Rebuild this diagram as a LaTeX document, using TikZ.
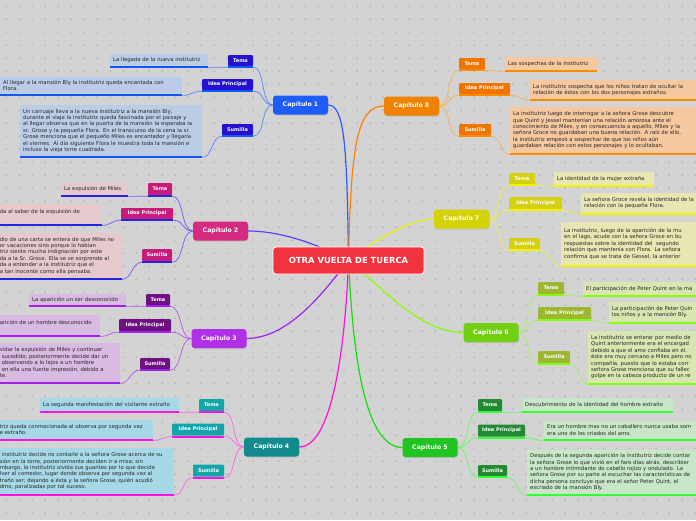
\documentclass[tikz,border=0pt]{standalone}
\usepackage{fontspec}
\setmainfont{DejaVu Sans}
\usetikzlibrary{shadows}
\pgfdeclarelayer{bg}\pgfsetlayers{bg,main}
\definecolor{bgc}{HTML}{D3D3D3}
\definecolor{dotc}{HTML}{BBBBBB}
\definecolor{txtc}{HTML}{262626}
\definecolor{ctrc}{HTML}{F2333F}
% chapter 1
\definecolor{c1n}{HTML}{1E5CF8}\definecolor{c1l}{HTML}{2412D0}\definecolor{c1u}{HTML}{1458F4}\definecolor{c1b}{HTML}{BBCDE6}\definecolor{c1c}{HTML}{5C84FF}\definecolor{c1m}{HTML}{2A5CFF}
% chapter 2
\definecolor{c2n}{HTML}{D62A80}\definecolor{c2l}{HTML}{C81A7A}\definecolor{c2u}{HTML}{2424E4}\definecolor{c2b}{HTML}{E6C9CD}\definecolor{c2c}{HTML}{6A60F2}\definecolor{c2m}{HTML}{5A40F0}
% chapter 3
\definecolor{c3n}{HTML}{B030E8}\definecolor{c3l}{HTML}{6E1082}\definecolor{c3u}{HTML}{A420F0}\definecolor{c3b}{HTML}{D9BAE2}\definecolor{c3c}{HTML}{B458E4}\definecolor{c3m}{HTML}{A020F0}
% chapter 4
\definecolor{c4n}{HTML}{138A8C}\definecolor{c4l}{HTML}{12A6A8}\definecolor{c4u}{HTML}{FF12E2}\definecolor{c4b}{HTML}{A6D8E8}\definecolor{c4c}{HTML}{FF66E6}\definecolor{c4m}{HTML}{FF10D8}
% chapter 5
\definecolor{c5n}{HTML}{22C422}\definecolor{c5l}{HTML}{218A32}\definecolor{c5u}{HTML}{34FF34}\definecolor{c5b}{HTML}{C8E6C8}\definecolor{c5c}{HTML}{66F866}\definecolor{c5m}{HTML}{10E010}
% chapter 6
\definecolor{c6n}{HTML}{72D012}\definecolor{c6l}{HTML}{9CB832}\definecolor{c6u}{HTML}{84FF08}\definecolor{c6b}{HTML}{D8E6B2}\definecolor{c6c}{HTML}{A6F068}\definecolor{c6m}{HTML}{84FF00}
% chapter 7
\definecolor{c7n}{HTML}{D2D204}\definecolor{c7l}{HTML}{D6D012}\definecolor{c7u}{HTML}{F2F200}\definecolor{c7b}{HTML}{E8E6B2}\definecolor{c7c}{HTML}{EEEE48}\definecolor{c7m}{HTML}{EAF200}
% chapter 8
\definecolor{c8n}{HTML}{F08200}\definecolor{c8l}{HTML}{F07400}\definecolor{c8u}{HTML}{FF8A00}\definecolor{c8b}{HTML}{F6C8A0}\definecolor{c8c}{HTML}{F6B256}\definecolor{c8m}{HTML}{FF8200}
\newcommand\txf{\fontsize{5.3}{6.4}\selectfont}
\newcommand\lblf{\fontsize{5}{6}\selectfont\bfseries}
\newcommand\chapf{\fontsize{6.2}{7}\selectfont\bfseries}
\newcommand\ctrf{\fontsize{8.4}{9}\selectfont\bfseries}
\begin{document}
\begin{tikzpicture}[x=1pt,y=-1pt,
  lbl/.style={fill=#1, text=white, font=\lblf, rounded corners=1pt, inner sep=0pt},
  tboxl/.style={fill=#1, text=txtc, font=\txf, align=left, inner xsep=3pt, inner ysep=1pt, anchor=north west},
  tboxr/.style={fill=#1, text=txtc, font=\txf, align=left, inner xsep=3pt, inner ysep=1pt, anchor=north east},
  chap/.style={fill=#1, text=white, font=\chapf, rounded corners=3pt, minimum width=55pt, minimum height=19pt, inner sep=0pt, drop shadow={opacity=0.25, shadow xshift=0.6pt, shadow yshift=-1pt}},
  conn/.style={draw=#1, line width=0.7pt},
  mainl/.style={draw=#1, line width=1.2pt},
  ul/.style={draw=#1, line width=1.8pt}]
\useasboundingbox (0,0) rectangle (696,520);
\clip (0,0) rectangle (696,520);

% ---------- nodes: chapters & center
\node[chap=c1n] (c1) at (300.5,105) {Capítulo 1};
\node[chap=c2n] (c2) at (220.5,231) {Capítulo 2};
\node[chap=c3n] (c3) at (219,338.5) {Capítulo 3};
\node[chap=c4n] (c4) at (271.5,447) {Capítulo 4};
\node[chap=c5n] (c5) at (430,447.5) {Capítulo 5};
\node[chap=c6n] (c6) at (491,332.5) {Capítulo 6};
\node[chap=c7n] (c7) at (461.5,219) {Capítulo 7};
\node[chap=c8n] (c8) at (411.5,106) {Capítulo 8};

% ---------- labels
\node[lbl=c1l, minimum width=25pt, minimum height=11pt] (c1t) at (240.5,60.5) {Tema};
\node[lbl=c1l, minimum width=51pt, minimum height=11pt] (c1i) at (227.5,84.5) {Idea Principal};
\node[lbl=c1l, minimum width=31pt, minimum height=11pt] (c1s) at (237.5,129.5) {Sumilla};
\node[lbl=c2l, minimum width=24pt, minimum height=12pt] (c2t) at (160,189) {Tema};
\node[lbl=c2l, minimum width=52pt, minimum height=11pt] (c2i) at (147,213.5) {Idea Principal};
\node[lbl=c2l, minimum width=30pt, minimum height=12pt] (c2s) at (157,255) {Sumilla};
\node[lbl=c3l, minimum width=24pt, minimum height=11pt] (c3t) at (158,299.5) {Tema};
\node[lbl=c3l, minimum width=52pt, minimum height=12pt] (c3i) at (145,325) {Idea Principal};
\node[lbl=c3l, minimum width=30pt, minimum height=11pt] (c3s) at (155,363.5) {Sumilla};
\node[lbl=c4l, minimum width=25pt, minimum height=12pt] (c4t) at (211.5,405) {Tema};
\node[lbl=c4l, minimum width=52pt, minimum height=12pt] (c4i) at (198,429.5) {Idea Principal};
\node[lbl=c4l, minimum width=31pt, minimum height=12pt] (c4s) at (208.5,470.5) {Sumilla};
\node[lbl=c5l, minimum width=24pt, minimum height=12pt] (c5t) at (490,405) {Tema};
\node[lbl=c5l, minimum width=47pt, minimum height=12pt] (c5i) at (501.5,430.5) {Idea Principal};
\node[lbl=c5l, minimum width=29pt, minimum height=11pt] (c5s) at (492.5,470.5) {Sumilla};
\node[lbl=c6l, minimum width=26pt, minimum height=12pt] (c6t) at (551,288) {Tema};
\node[lbl=c6l, minimum width=53pt, minimum height=12pt] (c6i) at (564.5,313) {Idea Principal};
\node[lbl=c6l, minimum width=32pt, minimum height=12pt] (c6s) at (554,357) {Sumilla};
\node[lbl=c7l, minimum width=26pt, minimum height=11pt] (c7t) at (522,178.5) {Tema};
\node[lbl=c7l, minimum width=53pt, minimum height=12pt] (c7i) at (535.5,203) {Idea Principal};
\node[lbl=c7l, minimum width=31pt, minimum height=11pt] (c7s) at (524.5,243.5) {Sumilla};
\node[lbl=c8l, minimum width=26pt, minimum height=11pt] (c8t) at (472,63.5) {Tema};
\node[lbl=c8l, minimum width=51pt, minimum height=11pt] (c8i) at (484.5,88.5) {Idea Principal};
\node[lbl=c8l, minimum width=32pt, minimum height=11pt] (c8s) at (475,129.5) {Sumilla};

% ---------- text boxes, left side
\node[tboxl=c1b, text width=92pt, minimum height=12pt] (c1tt) at (110,54) {La llegada de la nueva institutriz};
\node[tboxl=c1b, text width=176pt, minimum height=17pt] (c1it) at (0,77) {Al llegar a la mansión Bly la institutriz queda encantada con\\Flora.};
\node[tboxl=c1b, text width=176pt, minimum height=51pt] (c1st) at (20,105) {Un carruaje lleva a la nueva institutriz a la mansión Bly,\\durante el viaje la institutriz queda fascinada por el paisaje y\\al llegar observa que en la puerta de la mansión la esperaba la\\sr. Grose y la pequeña Flora. En el transcurso de la cena la sr.\\Grose menciona que el pequeño Miles es encantador y llegaría\\el viernes. Al día siguiente Flora le muestra toda la mansión e\\incluso la vieja torre cuadrada.};

\node[tboxl=c2b, text width=61pt, minimum height=12pt] (c2tt) at (61,183) {La expulsión de Miles};
\node[tboxr=c2b, text width=99pt, minimum height=20pt] (c2it) at (102,204) {da al saber de la expulsión de\\\mbox{}};
\node[tboxr=c2b, text width=119pt, minimum height=45pt] (c2st) at (122,233) {dio de una carta se entera de que Miles no\\or vacaciones sino porque lo habían\\triz siente mucha indignación por este\\da a la Sr. Grose. Ella se se sorprende al\\da a entender a la institutriz que el\\a tan inocente como ella pensaba.};

\node[tboxl=c3b, text width=91pt, minimum height=11pt] (c3tt) at (29,294) {La aparición un ser desconocido};
\node[tboxr=c3b, text width=97pt, minimum height=20pt] (c3it) at (100,315) {arición de un hombre desconocido\\\mbox{}};
\node[tboxr=c3b, text width=117pt, minimum height=39pt] (c3st) at (120,343) {vidar la expulsión de Miles y continuar\\\hspace*{2pt}sucedido; posteriormente decide dar un\\\hspace*{2pt}observando a lo lejos a un hombre\\\hspace*{2pt}en ella una fuerte impresión, debido a\\te.};

\node[tboxl=c4b, text width=133pt, minimum height=13pt] (c4tt) at (40,398) {La segunda manifestación del visitante extraño};
\node[tboxr=c4b, text width=150pt, minimum height=19pt] (c4it) at (153,420) {triz queda conmocionada al observa por segunda vez\\e extraño.};
\node[tboxr=c4b, text width=171pt, minimum height=46pt] (c4st) at (174,448) {\hspace*{2pt}institutriz decide no contarle a la señora Grose acerca de su\\sión en la torre, posteriormente deciden ir a misa; sin\\mbargo, la institutriz olvida sus guantes por lo que decide\\lver al comedor, lugar donde observa por segunda vez al\\traño ser; dejando a ésta y la señora Grose, quién acudió\\dmo, paralizadas por tal suceso.};

% ---------- text boxes, right side
\node[tboxl=c8b, text width=86pt, minimum height=13pt] (c8tt) at (505,57) {Las sospechas de la institutriz};
\node[tboxl=c8b, text width=160pt, minimum height=19pt] (c8it) at (530,80) {La institutriz sospecha que los niños tratan de ocultar la\\relación de éstos con los dos personajes extraños.};
\node[tboxl=c8b, text width=182pt, minimum height=46pt] (c8st) at (510,107) {La institutriz luego de interrogar a la señora Grose descubre\\que Quint y Jessel mantenían una relación amorosa ante el\\conocimiento de Miles, y en consecuencia a aquello, Miles y la\\señora Groce no guardaban una buena relación. A raíz de ello,\\la institutriz empezó a sospechar de que los niños aún\\guardaban relación con estos personajes y lo ocultaban.};

\node[tboxl=c7b, text width=94pt, minimum height=13pt] (c7tt) at (554,172) {La identidad de la mujer extraña};
\node[tboxl=c7b, text width=140pt, minimum height=20pt] (c7it) at (581,193) {La señora Groce revela la identidad de la\\relación con la pequeña Flora.};
\node[tboxl=c7b, text width=160pt, minimum height=43pt] (c7st) at (561,222) {La institutriz, luego de la aparición de la mu\\en el lago, acude con la señora Groce en bu\\respuestas sobre la identidad del\ \ segundo\\relación que mantenía con Flora. La señora\\confirma que se trata de Gessel, la anterior};

\node[tboxl=c6b, text width=140pt, minimum height=13pt] (c6tt) at (583,282) {El participación de Peter Quint en la ma};
\node[tboxl=c6b, text width=110pt, minimum height=20pt] (c6it) at (609,302) {La participación de Peter Quin\\los niños y a la mansión Bly.};
\node[tboxl=c6b, text width=130pt, minimum height=52pt] (c6st) at (588,331) {La institutriz se enterar por medio de\\Quint anteriormente era el encargad\\debido a que el amo confiaba en él.\\éste era muy cercano a Miles pero no\\compañía, puesto que lo estaba corr\\señora Grose menciona que su fallec\\golpe en la cabeza producto de un re};

\node[tboxl=c5b, text width=145pt, minimum height=13pt] (c5tt) at (522,398) {Descubrimiento de la identidad del hombre extraño};
\node[tboxl=c5b, text width=170pt, minimum height=18pt] (c5it) at (544,421) {Era un hombre mas no un caballero nunca usaba som\\era uno de los criados del amo.};
\node[tboxl=c5b, text width=185pt, minimum height=44pt] (c5st) at (527,450) {Después de la segunda aparición la institutriz decide contar\\la señora Grose lo que vivió en el faro días atrás, describier\\a un hombre intimidante de cabello rojizo y ondulado. La\\señora Grose por su parte al escuchar las características de\\dicha persona concluye que era el señor Peter Quint, el\\excriado de la mansión Bly.};

% ---------- center node
\node[fill=ctrc, draw=white, line width=0.8pt, rounded corners=3pt, minimum width=151pt, minimum height=27pt, text=white, font=\ctrf, inner sep=0pt] (ctr) at (348.5,260.5) {OTRA VUELTA DE TUERCA};

% ---------- background and connectors (behind nodes)
\begin{pgfonlayer}{bg}
\fill[bgc] (0,0) rectangle (696,520);
\foreach \i in {0,...,53}{\foreach \j in {0,...,40}{
  \draw[dotc, line width=0.35pt] (\i*13+6-0.9,\j*13+6) -- ++(1.8,0) (\i*13+6,\j*13+6-0.9) -- ++(0,1.8);}}
% main
\draw[mainl=c1m] (c1.east) .. controls (345,105) and (347,150) .. (ctr.center);
\draw[mainl=c8m] (c8.west) .. controls (356,106) and (351,150) .. (ctr.center);
\draw[mainl=c2m] (c2.east) .. controls (275,231) and (310,240) .. (ctr.center);
\draw[mainl=c7m] (c7.west) .. controls (410,219) and (375,240) .. (ctr.center);
\draw[mainl=c3m] (c3.east) .. controls (290,338) and (325,290) .. (ctr.center);
\draw[mainl=c4m] (c4.east) .. controls (335,447) and (346,330) .. (ctr.center);
\draw[mainl=c5m] (c5.west) .. controls (360,447) and (352,330) .. (ctr.center);
\draw[mainl=c6m] (c6.west) .. controls (420,332) and (385,290) .. (ctr.center);
% left chapters to labels, labels to texts
\foreach \c in {1,2,3,4}{
  \foreach \k in {t,i,s}{
    \draw[conn=c\c c] (c\c.west) .. controls +(-12,0) and +(12,0) .. ([yshift=-1pt]c\c\k.south east);
    \draw[conn=c\c c] ([yshift=-1pt]c\c\k.south west) .. controls +(-10,0) and +(10,0) .. ([yshift=-1pt]c\c\k t.south east);
  }}
\foreach \c in {5,6,7,8}{
  \foreach \k in {t,i,s}{
    \draw[conn=c\c c] (c\c.east) .. controls +(12,0) and +(-12,0) .. ([yshift=-1pt]c\c\k.south west);
    \draw[conn=c\c c] ([yshift=-1pt]c\c\k.south east) .. controls +(10,0) and +(-10,0) .. ([yshift=-1pt]c\c\k t.south west);
  }}
\end{pgfonlayer}

% ---------- underlines
\foreach \c in {1,...,8}{
  \foreach \k in {t,i,s}{
    \draw[ul=c\c u] ([yshift=-0.9pt]c\c\k.south west) -- ([yshift=-0.9pt]c\c\k.south east);
    \draw[ul=c\c u] ([yshift=-0.9pt]c\c\k t.south west) -- ([yshift=-0.9pt]c\c\k t.south east);
  }}
\end{tikzpicture}
\end{document}
